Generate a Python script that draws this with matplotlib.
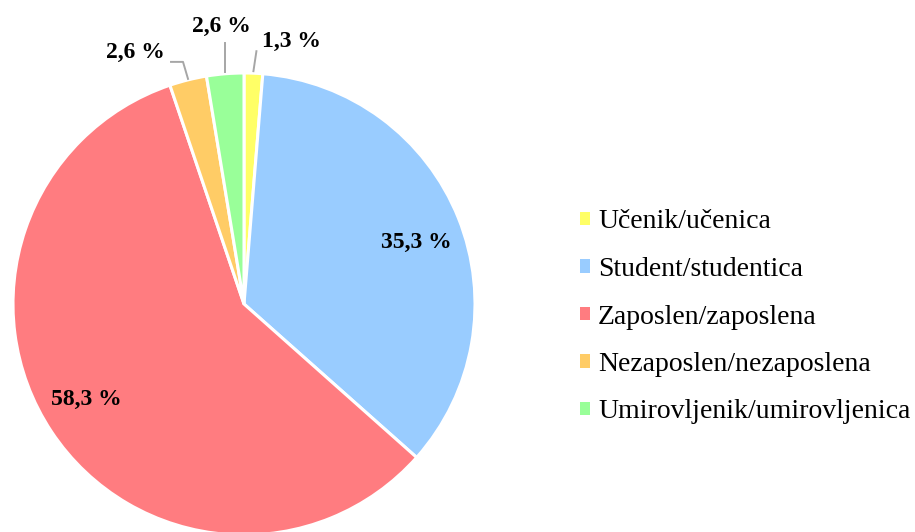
import numpy as np
import matplotlib
matplotlib.use("Agg")
import matplotlib.pyplot as plt
from matplotlib.patches import Patch

categories = ["Učenik/učenica", "Student/studentica", "Zaposlen/zaposlena",
              "Nezaposlen/nezaposlena", "Umirovljenik/umirovljenica"]
values = [1.3, 35.3, 58.3, 2.6, 2.6]
labels = ["1,3 %", "35,3 %", "58,3 %", "2,6 %", "2,6 %"]
colors = ["#FFFF66", "#99CCFF", "#FF7C80", "#FFCC66", "#99FF99"]

W, H = 915, 532
fig = plt.figure(figsize=(W / 100, H / 100), dpi=100)
ax = fig.add_axes([0, 0, 1, 1])

cx, cy, R = 244, H - 304, 231
wedges, _ = ax.pie(values, colors=colors, startangle=90, counterclock=False,
                   center=(cx, cy), radius=R, frame=True,
                   wedgeprops=dict(edgecolor="white", linewidth=2.2))
ax.set_xlim(0, W)
ax.set_ylim(0, H)
ax.set_aspect("equal")
ax.axis("off")

font = "Liberation Serif"
lab_kw = dict(fontfamily=font, fontweight="bold", fontsize=17,
              ha="center", va="center", color="black")

def mid(w, off=0.0):
    a = np.deg2rad((w.theta1 + w.theta2) / 2 + off)
    return np.cos(a), np.sin(a)

# inside labels
for i, d in [(1, 0.79), (2, 0.80)]:
    c, s = mid(wedges[i], -2.3)
    ax.text(cx + d * R * c, cy + d * R * s, labels[i], **lab_kw)

# outside labels with leader lines
lc = "#A6A6A6"
# Učenik
c, s = mid(wedges[0])
p = (cx + R * c, cy + R * s)
ax.plot([p[0], p[0] + 3], [p[1] + 2, p[1] + 22], color=lc, lw=1.4)
ax.text(291, H - 41, labels[0], **lab_kw)
# Umirovljenik
c, s = mid(wedges[4])
p = (cx + R * c, cy + R * s)
ax.plot([p[0], p[0]], [p[1] + 2, p[1] + 31], color=lc, lw=1.4)
ax.text(221, H - 26, labels[4], **lab_kw)
# Nezaposlen
c, s = mid(wedges[3])
p = (cx + R * c, cy + R * s)
ax.plot([p[0], p[0] - 5, p[0] - 17], [p[1] + 1, p[1] + 18, p[1] + 18], color=lc, lw=1.4)
ax.text(135, H - 52, labels[3], **lab_kw)

handles = [Patch(facecolor=col, edgecolor="none") for col in colors]
fig.legend(handles, categories, loc="center left", bbox_to_anchor=(580 / W, 1 - 317 / H),
           frameon=False, prop=dict(family=font, size=20), handlelength=0.35,
           handleheight=0.35, handletextpad=0.3, labelspacing=0.81,
           borderpad=0, borderaxespad=0)

fig.savefig("out.png", dpi=100, facecolor="white")
